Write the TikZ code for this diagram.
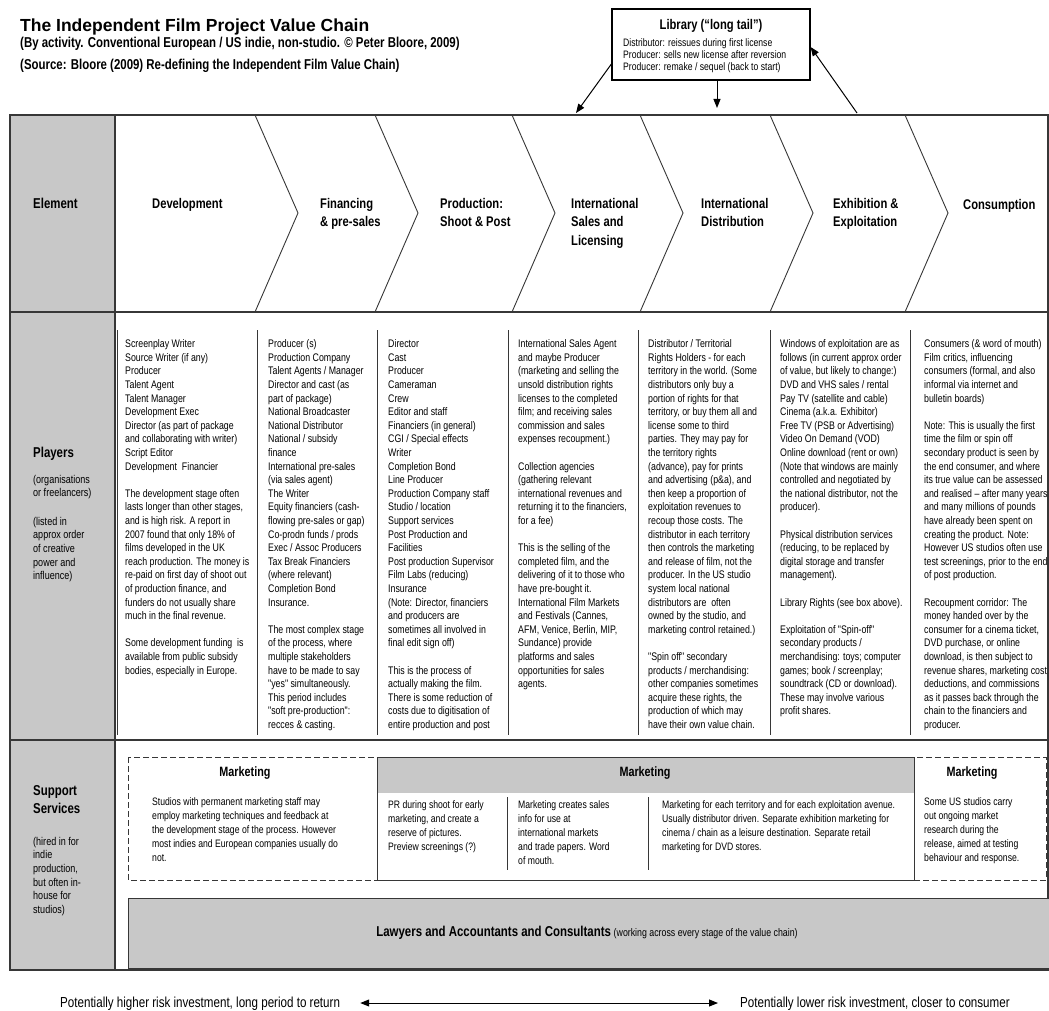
\documentclass[tikz,border=0pt]{standalone}
\usepackage{fontspec}
\setmainfont{Liberation Sans}
\newfontfamily\nar[FakeStretch=0.8]{Liberation Sans}
\usetikzlibrary{arrows.meta}
\definecolor{cellgray}{RGB}{200,200,200}
\definecolor{linecol}{RGB}{55,55,55}
\begin{document}
\begin{tikzpicture}[x=1pt,y=-1pt,
  tbl/.style={draw=linecol, line width=1.3pt},
  chev/.style={draw=linecol, line width=0.9pt},
  sep/.style={draw=linecol, line width=0.8pt},
  body/.style={anchor=north west, align=left, inner sep=0pt, font=\nar\fontsize{11}{13.6}\selectfont},
  mtext/.style={anchor=north west, align=left, inner sep=0pt, font=\nar\fontsize{10.8}{14}\selectfont},
  small/.style={anchor=north west, align=left, inner sep=0pt, font=\nar\fontsize{11.3}{13.6}\selectfont},
  stage/.style={anchor=north west, align=left, inner sep=0pt, font=\nar\bfseries\fontsize{14}{18.5}\selectfont},
  mhead/.style={anchor=center, inner sep=0pt, font=\nar\bfseries\fontsize{13.5}{16}\selectfont},
  arr/.style={draw=black, line width=1pt, -{Triangle[length=9pt,width=7pt]}},
  dbl/.style={draw=black, line width=1pt, {Triangle[length=9pt,width=7pt]}-{Triangle[length=9pt,width=7pt]}}
]
\useasboundingbox (0,0) rectangle (1049,1011);

% ---------- title ----------
\node[anchor=base west, inner sep=0pt, font=\bfseries\fontsize{17.5}{20}\selectfont] (title) at (20,32) {The Independent Film Project Value Chain};
\node[anchor=base west, inner sep=0pt, font=\nar\bfseries\fontsize{14.3}{15}\selectfont] (sub1) at (20,48) {(By activity. Conventional European / US indie, non-studio. \textcopyright\ Peter Bloore, 2009)};
\node[anchor=base west, inner sep=0pt, font=\nar\bfseries\fontsize{14.3}{15}\selectfont] (sub2) at (20,70) {(Source: Bloore (2009) Re-defining the Independent Film Value Chain)};

% ---------- library box ----------
\node[draw=black, line width=1.2pt, minimum width=198pt, minimum height=71pt, inner sep=0pt] (lib) at (711,44.5) {};
\node[anchor=base, inner sep=0pt, font=\nar\bfseries\fontsize{14}{16}\selectfont] (libt) at (711,30) {Library (\char"201C long tail\char"201D)};
\node[anchor=north west, align=left, inner sep=0pt, font=\nar\fontsize{10.8}{12}\selectfont] (libx) at (623,38) {Distributor: reissues during first license\\Producer: sells new license after reversion\\Producer: remake / sequel (back to start)};
\coordinate (la) at (576,113);
\coordinate (lm) at (717,108);
\coordinate (lr) at (857,113);
\draw[arr] ([yshift=-19.5pt]lib.west) -- (la);
\draw[arr] ([xshift=6pt]lib.south) -- (lm);
\draw[arr] (lr) -- ([yshift=-2.5pt]lib.east);

% ---------- table frame ----------
\fill[cellgray] (10,115) rectangle (115,970);
\draw[chev] (255,115) -- (298,213) -- (255,312);
\draw[chev] (375,115) -- (418,213) -- (375,312);
\draw[chev] (512,115) -- (555,213) -- (512,312);
\draw[chev] (640,115) -- (683,213) -- (640,312);
\draw[chev] (770,115) -- (813,213) -- (770,312);
\draw[chev] (905,115) -- (948,213) -- (905,312);
\draw[tbl] (10,115) rectangle (1048,970);
\draw[tbl] (10,312) -- (1048,312);
\draw[tbl] (10,740) -- (1048,740);
\draw[tbl] (115,115) -- (115,970);

% ---------- element row ----------
\node[anchor=base west, inner sep=0pt, font=\nar\bfseries\fontsize{14.3}{18}\selectfont] (el) at (33,208) {Element};
\node[stage] (s1) at (152,198) {Development};
\node[stage] (s2) at (320,198) {Financing\\\& pre-sales};
\node[stage] (s3) at (440,198) {Production:\\Shoot \& Post};
\node[stage] (s4) at (571,198) {International\\Sales and\\Licensing};
\node[stage] (s5) at (701,198) {International\\Distribution};
\node[stage] (s6) at (833,198) {Exhibition \&\\Exploitation};
\node[stage] (s7) at (963,199) {Consumption};

% ---------- players row ----------
\node[anchor=base west, inner sep=0pt, font=\nar\bfseries\fontsize{14.3}{18}\selectfont] (pl) at (33,457) {Players};
\node[small] (pl1) at (33,475) {(organisations\\or freelancers)};
\node[small] (pl2) at (33,517) {(listed in\\approx order\\of creative\\power and\\influence)};

\foreach \xx/\nm in {117/v1,257/v2,377/v3,508/v4,638/v5,770/v6,910/v7}{
  \coordinate (\nm t) at (\xx,330);
  \coordinate (\nm b) at (\xx,735);
  \draw[sep] (\nm t) -- (\nm b);
}

\node[body] (p1) at (125,339.5) {Screenplay Writer\\Source Writer (if any)\\Producer\\Talent Agent\\Talent Manager\\Development Exec\\Director (as part of package\\and collaborating with writer)\\Script Editor\\Development\ \ Financier\\[13.6pt]The development stage often\\lasts longer than other stages,\\and is high risk. A report in\\2007 found that only 18\% of\\films developed in the UK\\reach production. The money is\\re-paid on first day of shoot out\\of production finance, and\\funders do not usually share\\much in the final revenue.\\[13.6pt]Some development funding\ \ is\\available from public subsidy\\bodies, especially in Europe.};

\node[body] (p2) at (268,339.5) {Producer (s)\\Production Company\\Talent Agents / Manager\\Director and cast (as\\part of package)\\National Broadcaster\\National Distributor\\National / subsidy\\finance\\International pre-sales\\(via sales agent)\\The Writer\\Equity financiers (cash-\\flowing pre-sales or gap)\\Co-prodn funds / prods\\Exec / Assoc Producers\\Tax Break Financiers\\(where relevant)\\Completion Bond\\Insurance.\\[13.6pt]The most complex stage\\of the process, where\\multiple stakeholders\\have to be made to say\\"yes" simultaneously.\\This period includes\\"soft pre-production":\\recces \& casting.};

\node[body] (p3) at (388,339.5) {Director\\Cast\\Producer\\Cameraman\\Crew\\Editor and staff\\Financiers (in general)\\CGI / Special effects\\Writer\\Completion Bond\\Line Producer\\Production Company staff\\Studio / location\\Support services\\Post Production and\\Facilities\\Post production Supervisor\\Film Labs (reducing)\\Insurance\\(Note: Director, financiers\\and producers are\\sometimes all involved in\\final edit sign off)\\[13.6pt]This is the process of\\actually making the film.\\There is some reduction of\\costs due to digitisation of\\entire production and post};

\node[body] (p4) at (518,339.5) {International Sales Agent\\and maybe Producer\\(marketing and selling the\\unsold distribution rights\\licenses to the completed\\film; and receiving sales\\commission and sales\\expenses recoupment.)\\[13.6pt]Collection agencies\\(gathering relevant\\international revenues and\\returning it to the financiers,\\for a fee)\\[13.6pt]This is the selling of the\\completed film, and the\\delivering of it to those who\\have pre-bought it.\\International Film Markets\\and Festivals (Cannes,\\AFM, Venice, Berlin, MIP,\\Sundance) provide\\platforms and sales\\opportunities for sales\\agents.};

\node[body] (p5) at (648,339.5) {Distributor / Territorial\\Rights Holders - for each\\territory in the world. (Some\\distributors only buy a\\portion of rights for that\\territory, or buy them all and\\license some to third\\parties. They may pay for\\the territory rights\\(advance), pay for prints\\and advertising (p\&a), and\\then keep a proportion of\\exploitation revenues to\\recoup those costs. The\\distributor in each territory\\then controls the marketing\\and release of film, not the\\producer. In the US studio\\system local national\\distributors are\ \ often\\owned by the studio, and\\marketing control retained.)\\[13.6pt]"Spin off" secondary\\products / merchandising:\\other companies sometimes\\acquire these rights, the\\production of which may\\have their own value chain.};

\node[body] (p6) at (780,339.5) {Windows of exploitation are as\\follows (in current approx order\\of value, but likely to change:)\\DVD and VHS sales / rental\\Pay TV (satellite and cable)\\Cinema (a.k.a. Exhibitor)\\Free TV (PSB or Advertising)\\Video On Demand (VOD)\\Online download (rent or own)\\(Note that windows are mainly\\controlled and negotiated by\\the national distributor, not the\\producer).\\[13.6pt]Physical distribution services\\(reducing, to be replaced by\\digital storage and transfer\\management).\\[13.6pt]Library Rights (see box above).\\[13.6pt]Exploitation of "Spin-off"\\secondary products /\\merchandising: toys; computer\\games; book / screenplay;\\soundtrack (CD or download).\\These may involve various\\profit shares.};

\node[body] (p7) at (924,339.5) {Consumers (\& word of mouth)\\Film critics, influencing\\consumers (formal, and also\\informal via internet and\\bulletin boards)\\[13.6pt]Note: This is usually the first\\time the film or spin off\\secondary product is seen by\\the end consumer, and where\\its true value can be assessed\\and realised \char"2013\ after many years\\and many millions of pounds\\have already been spent on\\creating the product. Note:\\However US studios often use\\test screenings, prior to the end\\of post production.\\[13.6pt]Recoupment corridor: The\\money handed over by the\\consumer for a cinema ticket,\\DVD purchase, or online\\download, is then subject to\\revenue shares, marketing cost\\deductions, and commissions\\as it passes back through the\\chain to the financiers and\\producer.};

% ---------- support services row ----------
\node[stage, font=\nar\bfseries\fontsize{14.3}{18}\selectfont] (sl) at (33,785) {Support\\Services};
\node[small] (sl2) at (33,837) {(hired in for\\indie\\production,\\but often in-\\house for\\studios)};

\draw[draw=linecol, line width=1pt, dash pattern=on 6pt off 3pt] (128,757) rectangle (1046,880);
\fill[cellgray] (377,757) rectangle (914,793);
\draw[draw=linecol, line width=1pt] (377,757) rectangle (914,880);
\coordinate (m1t) at (507,797); \coordinate (m1b) at (507,870);
\coordinate (m2t) at (648,797); \coordinate (m2b) at (648,870);
\draw[sep] (m1t) -- (m1b);
\draw[sep] (m2t) -- (m2b);

\node[mhead] (mh1) at (245,773) {Marketing};
\node[mhead] (mh2) at (645,773) {Marketing};
\node[mhead] (mh3) at (972,773) {Marketing};

\node[mtext] (mt1) at (152,797) {Studios with permanent marketing staff may\\employ marketing techniques and feedback at\\the development stage of the process. However\\most indies and European companies usually do\\not.};
\node[mtext] (mt2) at (388,800) {PR during shoot for early\\marketing, and create a\\reserve of pictures.\\Preview screenings (?)};
\node[mtext] (mt3) at (518,800) {Marketing creates sales\\info for use at\\international markets\\and trade papers. Word\\of mouth.};
\node[mtext] (mt4) at (662,800) {Marketing for each territory and for each exploitation avenue.\\Usually distributor driven. Separate exhibition marketing for\\cinema / chain as a leisure destination. Separate retail\\marketing for DVD stores.};
\node[mtext] (mt5) at (924,797) {Some US studios carry\\out ongoing market\\research during the\\release, aimed at testing\\behaviour and response.};

\draw[draw=linecol, line width=1pt, fill=cellgray] (128,898) rectangle (1049,968);
\node[anchor=center, inner sep=0pt] (law) at (587,933) {{\nar\bfseries\fontsize{14.3}{16}\selectfont Lawyers and Accountants and Consultants} {\nar\fontsize{11}{12}\selectfont (working across every stage of the value chain)}};

% ---------- bottom ----------
\node[anchor=base west, inner sep=0pt, font=\nar\fontsize{14.5}{16}\selectfont] (bt1) at (60,1007) {Potentially higher risk investment, long period to return};
\node[anchor=base west, inner sep=0pt, font=\nar\fontsize{14.5}{16}\selectfont] (bt2) at (740,1007) {Potentially lower risk investment, closer to consumer};
\draw[dbl] ([xshift=20pt,yshift=4pt]bt1.base east) -- ([xshift=-22pt,yshift=4pt]bt2.base west);
\end{tikzpicture}
\end{document}
